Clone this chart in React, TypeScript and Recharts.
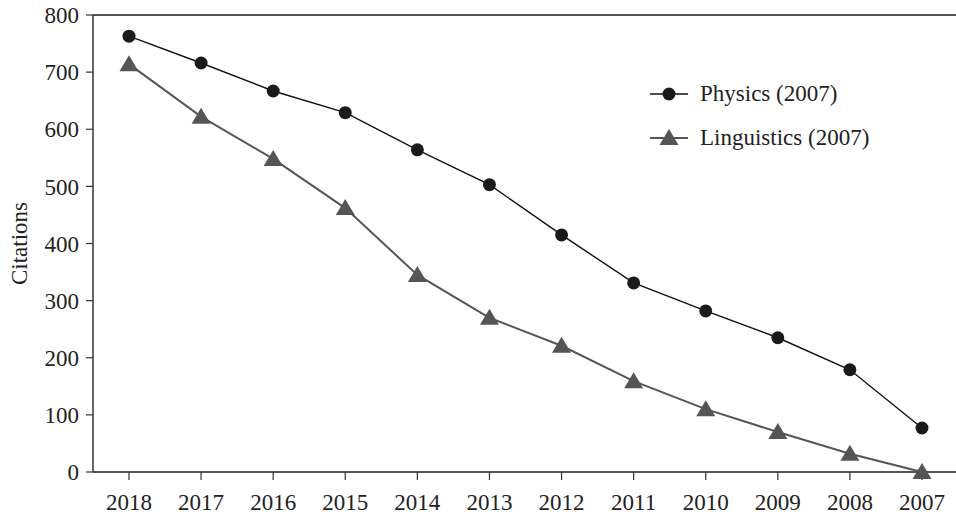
import React from "react";
import { LineChart, Line, XAxis, YAxis, ReferenceLine } from "recharts";

const years = ["2018", "2017", "2016", "2015", "2014", "2013", "2012", "2011", "2010", "2009", "2008", "2007"];
const physics = [763, 716, 667, 629, 564, 503, 415, 331, 282, 235, 179, 77];
const linguistics = [714, 622, 548, 462, 345, 270, 221, 159, 110, 70, 32, 0];
const yTicks = [0, 100, 200, 300, 400, 500, 600, 700, 800];

const data = years.map((year, i) => ({
  year,
  physics: physics[i],
  linguistics: linguistics[i],
}));

const FONT = "'Liberation Serif', 'DejaVu Serif', serif";
const tickStyle = { fill: "#222", fontSize: 23, fontFamily: FONT };

const Triangle = (props: any) => {
  const { cx, cy } = props;
  if (cx == null || cy == null) return null;
  return (
    <path
      d={`M${cx},${cy - 9} L${cx + 9.5},${cy + 7} L${cx - 9.5},${cy + 7} Z`}
      fill="#555"
    />
  );
};

// legend drawn as an overlay so it doesn't take space from the plot
const ChartLegend = () => (
  <div
    style={{
      position: "absolute",
      left: 650,
      top: 72,
      fontFamily: FONT,
      fontSize: 23,
      color: "#222",
    }}
  >
    <div style={{ display: "flex", alignItems: "center", height: 44 }}>
      <svg width={50} height={20}>
        <line x1={0} y1={10} x2={38} y2={10} stroke="#111" strokeWidth={1.5} />
        <circle cx={19} cy={10} r={6.5} fill="#1a1a1a" />
      </svg>
      <span>Physics (2007)</span>
    </div>
    <div style={{ display: "flex", alignItems: "center", height: 44 }}>
      <svg width={50} height={20}>
        <line x1={0} y1={10} x2={38} y2={10} stroke="#555" strokeWidth={2} />
        <path d="M19,1 L28.5,17 L9.5,17 Z" fill="#555" />
      </svg>
      <span>Linguistics (2007)</span>
    </div>
  </div>
);

export default function App() {
  return (
    <div style={{ position: "absolute", left: 0, top: 0, width: 956, height: 517, background: "#fff" }}>
      <LineChart
        width={956}
        height={517}
        data={data}
        margin={{ top: 15, right: 0, bottom: 15, left: 0 }}
      >
        <XAxis
          dataKey="year"
          height={30}
          padding={{ left: 36, right: 34 }}
          tick={tickStyle}
          tickSize={8}
          tickMargin={14}
          axisLine={{ stroke: "#555", strokeWidth: 2 }}
          tickLine={{ stroke: "#333", strokeWidth: 1.2 }}
        />
        <YAxis
          domain={[0, 800]}
          ticks={yTicks}
          interval={0}
          width={93}
          tick={tickStyle}
          tickSize={7}
          tickMargin={7}
          axisLine={{ stroke: "#333", strokeWidth: 1.5 }}
          tickLine={{ stroke: "#333", strokeWidth: 1.2 }}
          label={{
            value: "Citations",
            angle: -90,
            position: "insideLeft",
            offset: 19,
            style: { fill: "#222", fontSize: 23, fontFamily: FONT, textAnchor: "middle" },
          }}
        />
        <ReferenceLine y={800} stroke="#555" strokeWidth={2} />
        <Line
          type="linear"
          dataKey="physics"
          stroke="#111"
          strokeWidth={1.4}
          dot={{ r: 6.5, fill: "#1a1a1a", stroke: "none" }}
          activeDot={false}
          isAnimationActive={false}
        />
        <Line
          type="linear"
          dataKey="linguistics"
          stroke="#555"
          strokeWidth={2}
          dot={<Triangle />}
          activeDot={false}
          isAnimationActive={false}
        />
      </LineChart>
      <ChartLegend />
    </div>
  );
}
